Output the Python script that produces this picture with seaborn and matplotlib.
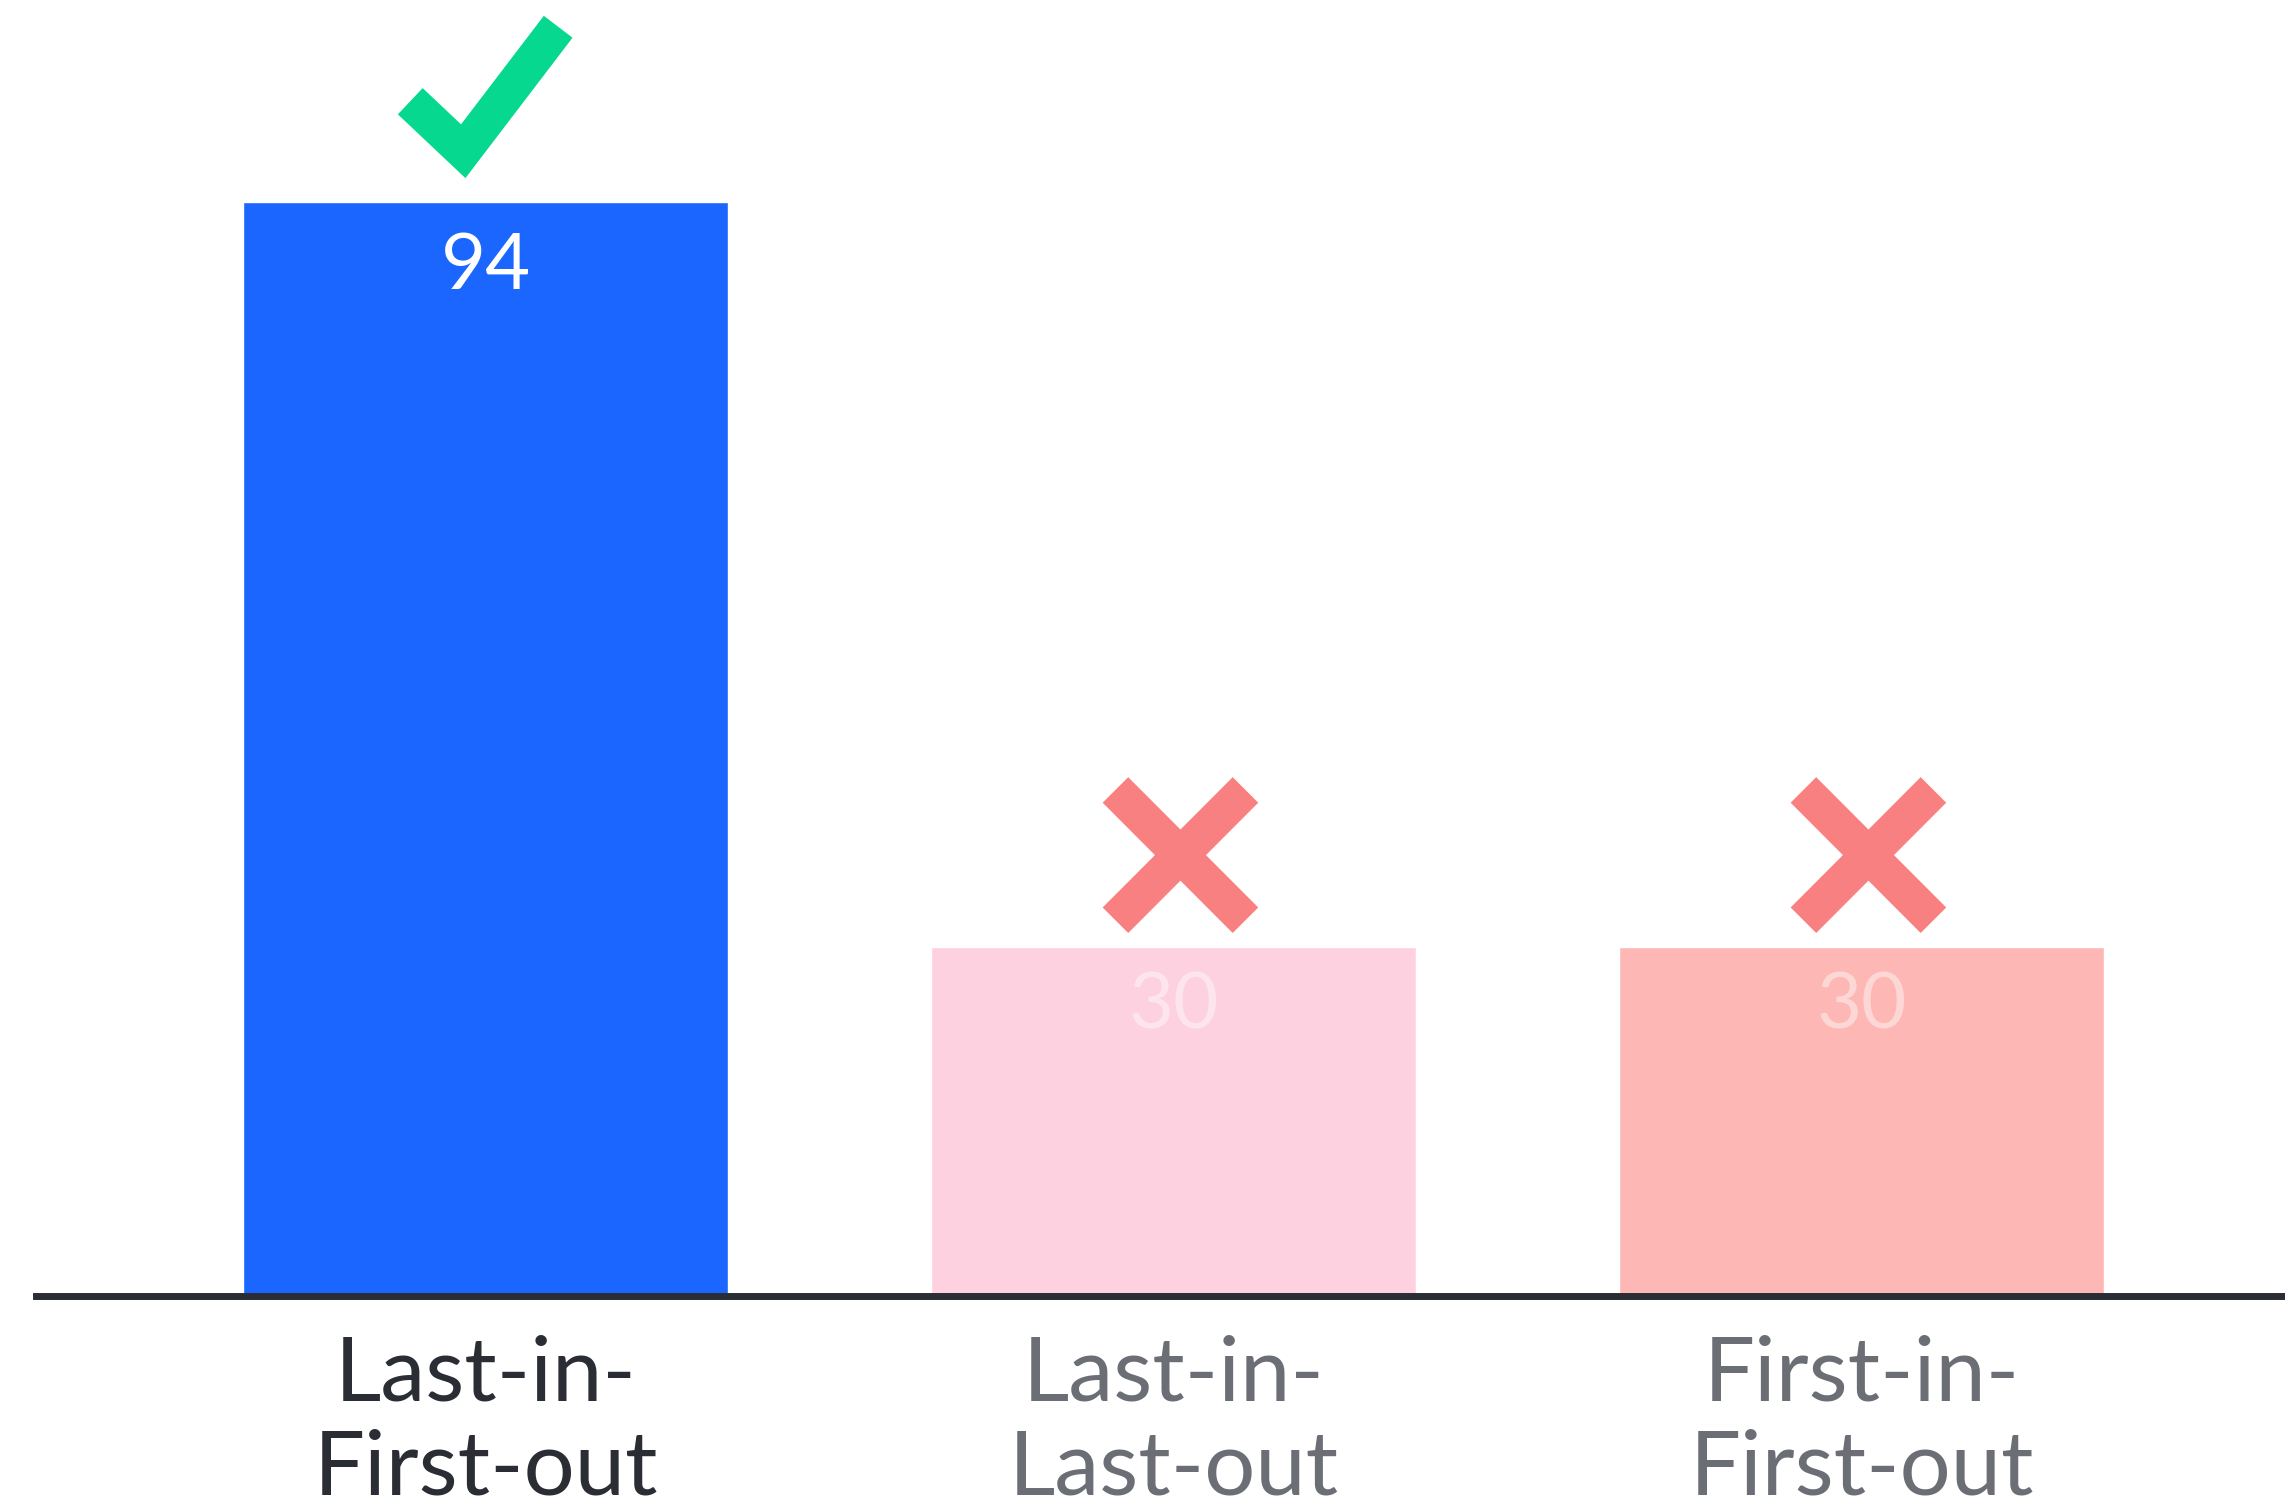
import matplotlib
matplotlib.use("Agg")
import matplotlib.pyplot as plt
import seaborn as sns
import pandas as pd

# Survey scores for three inventory valuation methods
categories = ["Last-in-\nFirst-out", "Last-in-\nLast-out", "First-in-\nFirst-out"]
scores = [94, 30, 30]
bar_colors = ["#1a66ff", "#fdd1df", "#fdb8b6"]
label_colors = ["#2a2d34", "#6b6e75", "#6b6e75"]
value_colors = [(1, 1, 1, 1.0), (1, 1, 1, 0.45), (1, 1, 1, 0.45)]
is_correct = [True, False, False]

sns.set_theme(style="white")
plt.rcParams["font.family"] = ["Lato", "DejaVu Sans"]

df = pd.DataFrame({"method": categories, "score": scores})

fig = plt.figure(figsize=(22.85, 15.07), dpi=100)
ax = fig.add_axes([36 / 2285, 0.140, 1 - 36 / 2285, 0.860])

sns.barplot(data=df, x="method", y="score", hue="method", palette=bar_colors,
            width=0.705, legend=False, ax=ax, saturation=1)

ax.set_xlim(-0.654, 2.615)
ax.set_ylim(0, 111.4)
ax.set_xlabel("")
ax.set_ylabel("")
ax.set_yticks([])
for side in ["top", "left", "right"]:
    ax.spines[side].set_visible(False)
ax.spines["bottom"].set_color("#2a2d34")
ax.spines["bottom"].set_linewidth(5)
ax.spines["bottom"].set_zorder(5)

ax.tick_params(axis="x", length=0, pad=28)
ax.set_xticks(range(len(categories)))
ax.set_xticklabels(categories, fontsize=65, linespacing=1.17)
for lbl, col in zip(ax.get_xticklabels(), label_colors):
    lbl.set_color(col)

# value labels inside the bars and verdict marks above them
for i, (v, good) in enumerate(zip(scores, is_correct)):
    ax.text(i, v - (5.6 if v > 50 else 5.2), str(v), ha="center", va="center",
            fontsize=56, color=value_colors[i])
    if good:
        ax.plot([i - 0.110, i - 0.033, i + 0.105], [v + 8.7, v + 4.4, v + 15.1],
                color="#06d98f", lw=26, solid_capstyle="butt",
                solid_joinstyle="miter", clip_on=False)
    else:
        cx, cy = i + 0.0095, v + 7.9
        dx, dy = 0.0945, 5.6
        ax.plot([cx - dx, cx + dx], [cy - dy, cy + dy], color="#f98080", lw=26,
                solid_capstyle="butt", clip_on=False)
        ax.plot([cx - dx, cx + dx], [cy + dy, cy - dy], color="#f98080", lw=26,
                solid_capstyle="butt", clip_on=False)

fig.savefig("out.png", dpi=100, facecolor="white")
